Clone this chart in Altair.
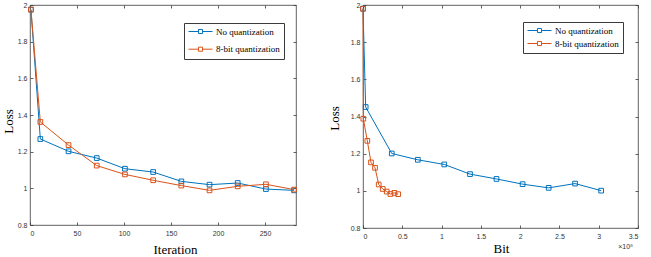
import altair as alt
import pandas as pd

# Series names and colours (MATLAB default palette)
SERIES = ["No quantization", "8-bit quantization"]
COLORS = ["#0072BD", "#D95319"]

# Loss against training iteration
iterations = [1, 11, 41, 71, 101, 131, 161, 191, 221, 251, 281]
loss_iter_noq = [1.975, 1.269, 1.202, 1.165, 1.107, 1.089, 1.038, 1.020, 1.029, 0.996, 0.989]
loss_iter_q8 = [1.975, 1.362, 1.236, 1.124, 1.076, 1.044, 1.015, 0.989, 1.011, 1.022, 0.993]

# Loss against transmitted bits (in units of 1e8)
bits_noq = [0.0, 0.034, 0.366, 0.698, 1.034, 1.362, 1.699, 2.031, 2.363, 2.699, 3.031]
loss_bits_noq = [1.980, 1.451, 1.201, 1.167, 1.142, 1.090, 1.064, 1.036, 1.016, 1.039, 1.001]
bits_q8 = [0.0, 0.004, 0.055, 0.102, 0.153, 0.200, 0.251, 0.302, 0.349, 0.400, 0.447]
loss_bits_q8 = [1.980, 1.388, 1.269, 1.153, 1.124, 1.034, 1.010, 0.996, 0.983, 0.989, 0.982]

# Axis ticks
loss_ticks = [0.8, 1.0, 1.2, 1.4, 1.6, 1.8, 2.0]
iter_ticks = [0, 50, 100, 150, 200, 250]
bit_ticks = [0, 0.5, 1, 1.5, 2, 2.5, 3, 3.5]
bit_exponent = ["×10⁸"]

SANS = "Liberation Sans"
SERIF = "Times New Roman, Liberation Serif, Nimbus Roman, serif"
AXIS_COLOR = "#3a3a3a"
LABEL_COLOR = "#333333"
# legend glyph: line with an open square in the middle
LEGEND_GLYPH = "M-1,0H-0.17M0.17,0H1M-0.17,-0.17H0.17V0.17H-0.17Z"


def table(xs_a, ys_a, xs_b, ys_b):
    rows = []
    for name, xs, ys in ((SERIES[0], xs_a, ys_a), (SERIES[1], xs_b, ys_b)):
        for i, (x, y) in enumerate(zip(xs, ys)):
            rows.append({"series": name, "step": i, "x": x, "loss": y})
    return pd.DataFrame(rows)


def panel(df, W, H, xdom, xticks, xtitle, xtitle_xy, ytitle_xy,
          legend_xy, row_pad, extra=()):
    xs = alt.Scale(domain=xdom, nice=False, zero=False)
    ys = alt.Scale(domain=[0.8, 2.0], nice=False, zero=False)
    cscale = alt.Scale(domain=SERIES, range=COLORS)
    # inward tick marks on all four sides; they take no layout room
    tick_only = dict(labels=False, domain=False, grid=False, title=None,
                     ticks=True, tickSize=3, tickColor=AXIS_COLOR, tickWidth=0.8,
                     minExtent=0, maxExtent=0)
    label_style = dict(ticks=False, domain=False, grid=False,
                       labelFont=SANS, labelFontSize=7, labelColor=LABEL_COLOR,
                       titleFont=SERIF, titleFontSize=13, titleFontWeight="normal",
                       titleColor="black", titleBaseline="middle", titleAlign="center")
    legend = alt.Legend(
        title=None, orient="none", legendX=legend_xy[0], legendY=legend_xy[1],
        direction="vertical", symbolType=LEGEND_GLYPH, symbolSize=576,
        symbolStrokeWidth=1, symbolFillColor="transparent",
        labelFont=SERIF, labelFontSize=9, labelColor="black", labelOffset=3,
        labelLimit=300, clipHeight=9, rowPadding=row_pad, padding=4,
        strokeColor=AXIS_COLOR, fillColor="white",
    )
    base = alt.Chart(df)
    lines = base.mark_line(strokeWidth=1).encode(
        x=alt.X("x:Q", scale=xs, axis=alt.Axis(
            values=xticks, format="~r", labelPadding=4, title=xtitle,
            titleX=xtitle_xy[0], titleY=xtitle_xy[1], **label_style)),
        y=alt.Y("loss:Q", scale=ys, axis=alt.Axis(
            values=loss_ticks, format="~r", labelPadding=3, title="Loss",
            titleX=ytitle_xy[0], titleY=ytitle_xy[1], **label_style)),
        color=alt.Color("series:N", scale=cscale, sort=SERIES, legend=legend),
        order="step:Q",
    )
    points = base.mark_point(shape="square", filled=False, size=22,
                             strokeWidth=1, opacity=1).encode(
        x=alt.X("x:Q", scale=xs, axis=alt.Axis(orient="top", offset=-H,
                                               values=xticks, **tick_only)),
        y=alt.Y("loss:Q", scale=ys, axis=alt.Axis(orient="right", offset=-W,
                                                  values=loss_ticks, **tick_only)),
        color=alt.Color("series:N", scale=cscale, sort=SERIES, legend=None),
    )
    ghost = base.mark_point(opacity=0).encode(
        x=alt.X("x:Q", scale=xs, axis=alt.Axis(orient="bottom", offset=-H,
                                               values=xticks, **tick_only)),
        y=alt.Y("loss:Q", scale=ys, axis=alt.Axis(orient="left", offset=-W,
                                                  values=loss_ticks, **tick_only)),
    )
    return (
        alt.layer(lines, points, ghost, *extra)
        .resolve_axis(x="independent", y="independent")
        .properties(width=W, height=H)
    )


iter_df = table(iterations, loss_iter_noq, iterations, loss_iter_q8)
bits_df = table(bits_noq, loss_bits_noq, bits_q8, loss_bits_q8)

exponent = alt.Chart(pd.DataFrame({"label": bit_exponent})).mark_text(
    align="right", baseline="middle", font=SANS, fontSize=7, color=LABEL_COLOR
).encode(text="label:N", x=alt.value(270), y=alt.value(242))

left = panel(iter_df, 266, 220, [0, 283], iter_ticks, "Iteration",
             (145, 24), (-22, 116), (154, 18), 7.7)
right = panel(bits_df, 275, 223, [0, 3.5], bit_ticks, "Bit",
              (138, 20), (-29, 113), (160, 17), 3, extra=(exponent,))

chart = (
    alt.hconcat(left, right, spacing=67, bounds="flush")
    .resolve_scale(color="independent")
    .resolve_legend(color="independent")
    .properties(padding={"left": 1, "top": 0, "right": 0, "bottom": 0},
                background="white")
    .configure_view(stroke=AXIS_COLOR, strokeWidth=0.8)
)

chart.save("out.html", embed_options={"renderer": "svg", "actions": False})
